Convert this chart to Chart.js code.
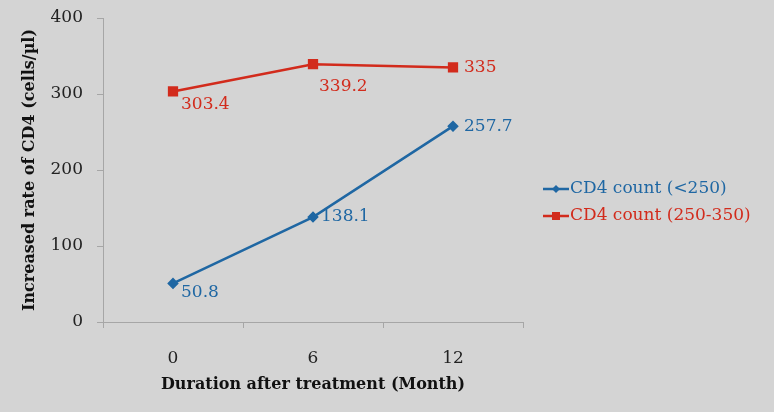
<!DOCTYPE html>
<html>
<head>
<meta charset="utf-8">
<script src="https://cdn.jsdelivr.net/npm/chart.js@4/dist/chart.umd.min.js"></script>
<style>
  html, body { margin: 0; padding: 0; background: #d4d4d4; }
  #wrap { width: 774px; height: 412px; }
</style>
</head>
<body>
<div id="wrap"><canvas id="cd4Chart" width="774" height="412"></canvas></div>
<script>
// chart data
const months = ["0", "6", "12"];
const cd4Low = [50.8, 138.1, 257.7];
const cd4Mid = [303.4, 339.2, 335];
const yTicks = [0, 100, 200, 300, 400];

const FONT = "'DejaVu Serif', 'Liberation Serif', serif";
const AXIS = "#a6a6a6";
const BLUE = "#1f67a3";
const RED = "#d22b1c";

// where each value label sits relative to its point (dx, dy of text middle-left)
const labelOffsets = [
  [[8, 9], [8, 0], [11, 0]],
  [[8, 13], [6, 22], [11, 0]]
];

const valueLabels = {
  id: "valueLabels",
  afterDatasetsDraw(chart) {
    const ctx = chart.ctx;
    ctx.save();
    ctx.font = "17px " + FONT;
    ctx.textAlign = "left";
    ctx.textBaseline = "middle";
    chart.data.datasets.forEach((ds, i) => {
      chart.getDatasetMeta(i).data.forEach((pt, j) => {
        const o = labelOffsets[i][j];
        ctx.fillStyle = ds.borderColor;
        ctx.fillText(String(ds.data[j]), pt.x + o[0], pt.y + o[1]);
      });
    });
    ctx.restore();
  }
};

// legend: short line with the marker in the middle, like the original
const sideLegend = {
  id: "sideLegend",
  afterDraw(chart) {
    const ctx = chart.ctx;
    ctx.save();
    ctx.font = "17px " + FONT;
    ctx.textBaseline = "middle";
    ctx.textAlign = "left";
    chart.data.datasets.forEach((ds, i) => {
      const y = 189 + i * 27;
      const x0 = 543, x1 = 569;
      ctx.strokeStyle = ds.borderColor;
      ctx.lineWidth = 2.5;
      ctx.beginPath();
      ctx.moveTo(x0, y);
      ctx.lineTo(x1, y);
      ctx.stroke();
      ctx.fillStyle = ds.borderColor;
      const cx = (x0 + x1) / 2;
      if (ds.pointStyle === "rect") {
        ctx.fillRect(cx - 4, y - 4, 8, 8);
      } else {
        ctx.beginPath();
        ctx.moveTo(cx, y - 4);
        ctx.lineTo(cx + 4, y);
        ctx.lineTo(cx, y + 4);
        ctx.lineTo(cx - 4, y);
        ctx.closePath();
        ctx.fill();
      }
      ctx.fillText(ds.label, x1 + 1, y);
    });
    ctx.restore();
  }
};

new Chart(document.getElementById("cd4Chart").getContext("2d"), {
  type: "line",
  data: {
    labels: months,
    datasets: [
      {
        label: "CD4 count (<250)",
        data: cd4Low,
        borderColor: BLUE,
        backgroundColor: BLUE,
        borderWidth: 2.5,
        pointStyle: "rectRot",
        pointRadius: 4,
        tension: 0
      },
      {
        label: "CD4 count (250-350)",
        data: cd4Mid,
        borderColor: RED,
        backgroundColor: RED,
        borderWidth: 2.5,
        pointStyle: "rect",
        pointRadius: 5.5,
        tension: 0
      }
    ]
  },
  options: {
    responsive: false,
    animation: false,
    layout: { padding: { left: 0, right: 251, top: 18, bottom: 14 } },
    plugins: {
      legend: { display: false },
      tooltip: { enabled: false }
    },
    scales: {
      x: {
        offset: true,
        grid: { offset: true, drawOnChartArea: false, color: AXIS, tickLength: 6 },
        border: { color: AXIS },
        ticks: { color: "#222", font: { family: FONT, size: 17 }, padding: 20 },
        title: {
          display: true,
          text: "Duration after treatment (Month)",
          color: "#111",
          font: { family: FONT, size: 16, weight: "bold" },
          padding: { top: 4 }
        },
        afterFit(s) { s.height = 76; }
      },
      y: {
        min: 0,
        max: 400,
        afterBuildTicks(s) { s.ticks = yTicks.map(v => ({ value: v })); },
        grid: { drawOnChartArea: false, color: AXIS, tickLength: 6 },
        border: { color: AXIS },
        ticks: { color: "#222", font: { family: FONT, size: 17 }, padding: 14 },
        title: {
          display: true,
          text: "Increased rate of CD4 (cells/µl)",
          color: "#111",
          font: { family: FONT, size: 16, weight: "bold" },
          padding: { top: 20, bottom: 4 }
        },
        afterFit(s) {
          s.width = 103;
          s.paddingTop = 0;
          s.paddingBottom = 0;
        }
      }
    }
  },
  plugins: [valueLabels, sideLegend]
});
</script>
</body>
</html>
